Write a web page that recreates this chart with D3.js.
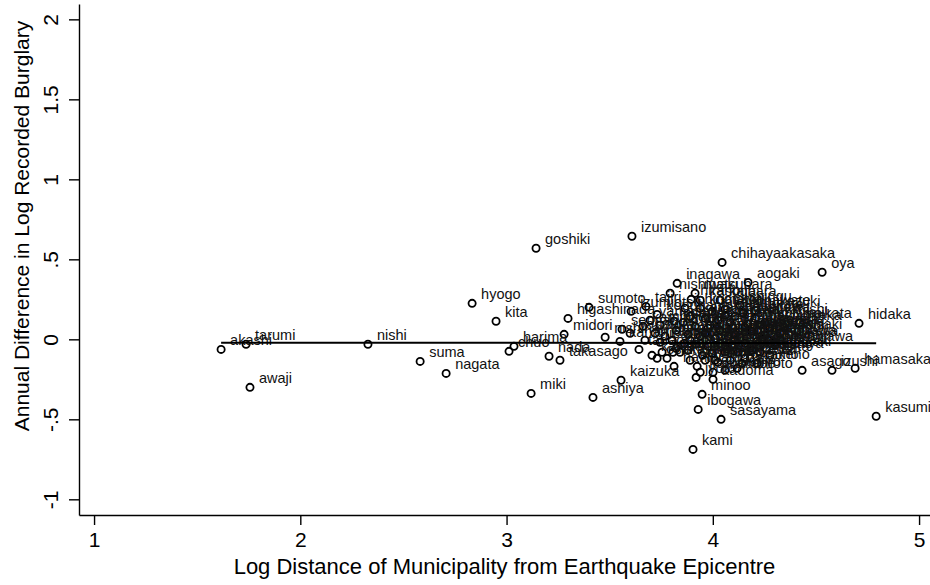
<!DOCTYPE html>
<html><head><meta charset="utf-8">
<script src="https://cdn.jsdelivr.net/npm/d3@7"></script>
<style>body{margin:0;background:#fff} text{font-family:"Liberation Sans",Arial,Helvetica,sans-serif}</style>
</head><body><svg id="c" width="930" height="585"></svg>
<script>
// municipality names, log distance from epicentre, annual difference in log recorded burglary
const names = ["akashi","tarumi","awaji","nishi","suma","nagata","hyogo","kita","goshiki","izumisano",
"miki","ashiya","harima","chuo","nada","takasago","kaizuka","kami","minoo","ibogawa",
"sasayama","jyoto","kadoma","asago","izushi","hamasaka","kasumi","hidaka","oya","chihayaakasaka",
"aogaki","matsubara","inagawa","nishiwaki","hirano","tajiri","sumoto","higashinada","midori","izumiotsu",
"konohana","sumiyoshi","sennan","nishinari","hirakata","mikata",
"kumatori","takaishi","shijonawate","neyagawa","kawanishi","ichijima","higashiosaka","izumi","tsurumi","yodogawa",
"ikeda","settsu","yao","daito","katano","kashiwara","moriguchi","nose","sanda","kishiwada",
"fujiidera","habikino","tennoji","abeno","ikuno","toyonaka","suita","tondabayashi","ibaraki","higashinari",
"miyakojima","asahi","fukushima","taisho","higashiyodogawa","takatsuki","itami","ono","amagasaki","nishinomiya",
"takarazuka","kakogawa","naniwa","minato","nishiyodogawa","suminoe","himeji","aioi","ako","tatsuno",
"kasai","kato","yashiro","sakai","kawachinagano","osakasayama","hannan","misaki","tadaoka","kanan",
"taishi","shimamoto","toyono","sayo","kamigori","fukusaki","ichikawa","kamikawa","yasutomi","yamasaki",
"ichinomiya","shingu","mikazuki","kaibara","kasuga","santo","yamato","tsuna","hokudan","higashiura",
"seidan","mihara","higashisumiyoshi","inami","yokawa","kawanabe","kitadan","yoka","kinosaki","takeno",
"kashihara","yokogawa","nishitani","tadacho","ichishima","sannan"];
const logDistance = [1.616,1.737,1.756,2.328,2.581,2.707,2.833,2.949,3.143,3.608,
3.119,3.419,3.036,3.012,3.206,3.259,3.555,3.904,3.948,3.929,
4.040,3.919,4.001,4.433,4.578,4.690,4.792,4.709,4.530,4.045,
4.171,3.914,3.827,3.793,3.895,3.676,3.400,3.298,3.279,3.604,
3.730,3.812,3.560,3.478,4.147,4.423,
3.939,3.996,4.059,4.108,4.205,4.253,4.171,4.084,4.025,3.963,
3.890,3.856,3.914,3.977,4.035,4.098,4.156,4.219,4.277,4.132,
4.074,4.011,3.939,3.880,3.822,3.768,3.720,3.671,3.744,3.803,
3.861,3.919,3.977,4.035,4.093,4.156,4.215,4.268,4.190,4.122,
4.059,3.996,3.812,3.880,3.822,3.890,3.963,4.025,4.084,4.142,
4.181,4.118,4.059,3.754,3.705,3.730,3.778,3.807,3.642,3.550,
3.924,4.001,4.229,4.302,4.253,4.326,3.744,3.662,3.599,3.696,
3.865,4.132,4.205,4.035,3.939,3.987,3.841,4.156,4.229,4.059,
4.108,3.890,3.963,4.011,4.326,3.939,4.156,4.277,4.258,4.215,
4.190,4.240,4.070,3.950,4.110,4.300];
const burglaryDiff = [-0.063,-0.031,-0.300,-0.031,-0.138,-0.213,0.225,0.113,0.569,0.644,
-0.338,-0.363,-0.044,-0.075,-0.106,-0.131,-0.256,-0.688,-0.344,-0.438,
-0.500,-0.238,-0.250,-0.194,-0.194,-0.181,-0.481,0.100,0.419,0.481,
0.356,0.288,0.350,0.288,0.250,0.206,0.200,0.131,0.031,0.175,
0.156,0.113,0.063,0.013,0.163,0.106,
0.194,0.175,0.188,0.144,0.131,0.106,0.094,0.106,0.119,0.131,
0.144,0.106,0.081,0.069,0.056,0.069,0.044,0.056,0.069,0.013,
0.019,0.006,0.019,0.031,0.056,0.019,0.038,-0.006,-0.019,-0.006,
-0.025,-0.031,-0.044,-0.025,-0.038,-0.025,-0.013,-0.006,-0.069,-0.081,
-0.081,-0.088,-0.169,-0.069,-0.056,-0.131,-0.131,-0.144,-0.131,-0.150,
-0.119,-0.181,-0.194,-0.081,-0.100,-0.119,-0.119,-0.081,-0.063,-0.013,
-0.169,-0.206,-0.081,-0.038,0.025,0.038,0.088,0.081,0.038,0.119,
0.194,0.213,0.181,0.244,0.244,0.088,-0.081,0.075,0.088,0.150,
-0.006,-0.006,0.038,-0.131,-0.006,-0.206,-0.119,-0.100,-0.056,-0.150,
0.050,0.000,-0.060,-0.100,0.030,-0.020];
const xTicks = [1,2,3,4,5];
const yTicks = [-1,-0.5,0,0.5,1,1.5,2];
const yTickLabels = ["-1","-.5","0",".5","1","1.5","2"];
const fitIntercept = -0.019, fitSlope = -0.001;   // linear fit
const xTitle = "Log Distance of Municipality from Earthquake Epicentre";
const yTitle = "Annual Difference in Log Recorded Burglary";

const data = names.map((n,i)=>({name:n, x:logDistance[i], y:burglaryDiff[i]}));
const svg = d3.select("#c");
const x = d3.scaleLinear().domain([0.927,5.053]).range([79,930]);
const y = d3.scaleLinear().domain([-1.098,2.096]).range([515,4]);

const xAxis = svg.append("g").attr("transform","translate(0,515)")
  .call(d3.axisBottom(x).tickValues(xTicks).tickSize(10).tickSizeOuter(0).tickPadding(7).tickFormat(d3.format("d")));
const yAxis = svg.append("g").attr("transform","translate(79,0)")
  .call(d3.axisLeft(y).tickValues(yTicks).tickSize(10).tickSizeOuter(0).tickFormat((d,i)=>yTickLabels[i]));
[xAxis,yAxis].forEach(g=>{
  g.selectAll("path,line").attr("stroke","#000").attr("stroke-width",1.4);
  g.selectAll("text").attr("fill","#000").style("font-size","21px");
});
yAxis.selectAll("text").attr("x",null).attr("dy",null).attr("text-anchor","middle")
  .attr("transform","translate(-21,0) rotate(-90)");

svg.append("text").attr("x",(x(0.927)+x(5.053))/2).attr("y",574).attr("text-anchor","middle")
  .style("font-size","22px").text(xTitle);
svg.append("text").attr("transform","translate(29,226) rotate(-90)")
  .attr("text-anchor","middle").style("font-size","21px").text(yTitle);

const g = svg.append("g");
g.selectAll("circle").data(data).enter().append("circle")
  .attr("cx",d=>x(d.x)).attr("cy",d=>y(d.y)).attr("r",3.6)
  .attr("fill","none").attr("stroke","#000").attr("stroke-width",1.8);
g.selectAll("text").data(data).enter().append("text")
  .attr("x",d=>x(d.x)+9).attr("y",d=>y(d.y)-4)
  .style("font-size","14.5px").attr("fill","#111").text(d=>d.name);

const xr = d3.extent(data,d=>d.x);
svg.append("line").attr("x1",x(xr[0])).attr("x2",x(xr[1]))
  .attr("y1",y(fitIntercept+fitSlope*xr[0])).attr("y2",y(fitIntercept+fitSlope*xr[1]))
  .attr("stroke","#000").attr("stroke-width",2);
</script></body></html>
